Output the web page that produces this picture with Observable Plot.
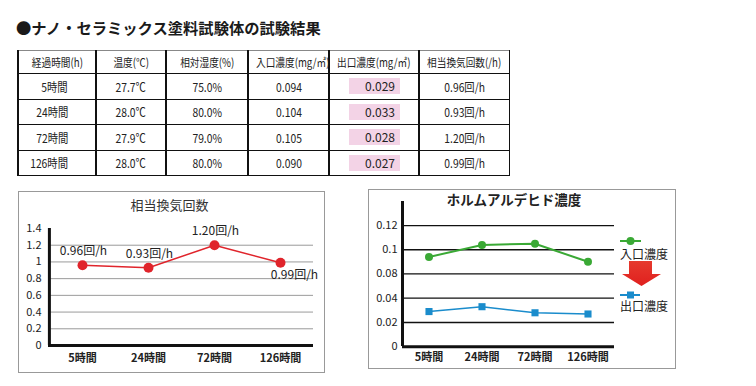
<!DOCTYPE html>
<html><head><meta charset="utf-8">
<script src="https://cdn.jsdelivr.net/npm/d3@7"></script>
<script src="https://cdn.jsdelivr.net/npm/@observablehq/plot@0.6"></script>
<style>
body{margin:0;background:#fff;font-family:"Noto Sans CJK JP","Noto Sans",sans-serif;color:#222;}
#page{position:relative;width:756px;height:386px;overflow:hidden;background:#fff;}
#title{position:absolute;left:16px;top:19px;font-size:15.3px;line-height:16px;font-weight:bold;color:#1a1a1a;white-space:nowrap;}
table{position:absolute;left:17px;top:50px;width:491px;border-collapse:collapse;table-layout:fixed;font-size:12px;color:#222;}
td,th{padding:0;font-weight:normal;text-align:center;border-top:1.5px solid #111;border-bottom:1.5px solid #111;border-left:2.5px solid #111;border-right:2.5px solid #111;white-space:nowrap;overflow:visible;}
tr.h th{height:22px;border-top:1.5px solid #888;font-size:11.5px;}
tr.h th .t{transform:scaleX(0.84);}
tr.d td{height:24.5px;}
.t{display:inline-block;transform:scaleX(0.86);transform-origin:center;}
.rwrap{display:flex;justify-content:flex-end;padding-right:27px;}
.rwrap .t{transform-origin:100% 50%;}
.lwrap{display:flex;justify-content:flex-start;padding-left:19px;}
.lwrap .t{width:40px;height:16px;line-height:16px;padding-left:11px;background:#f3d3e6;transform:none;}
th:last-child,td:last-child{border-right:1.5px solid #111;}
.box{position:absolute;border:1px solid #999;box-sizing:border-box;}
.ctitle{position:absolute;text-align:center;white-space:nowrap;}
.plot{position:absolute;}
#legend{position:absolute;left:612px;top:230px;}
</style></head>
<body><div id="page">
<div id="title">●ナノ・セラミックス塗料試験体の試験結果</div>
<div class="box" style="left:18px;top:191px;width:307px;height:182px;"></div>
<div class="box" style="left:368px;top:189px;width:308px;height:180px;"></div>
<div class="ctitle" style="left:18px;top:197px;width:303px;font-size:13px;line-height:16px;color:#333;">相当換気回数</div>
<div class="ctitle" style="left:368px;top:191px;width:292px;font-size:13.5px;line-height:16px;font-weight:bold;color:#222;">ホルムアルデヒド濃度</div>
<div id="plot1" class="plot" style="left:18px;top:191px;"></div>
<div id="plot2" class="plot" style="left:368px;top:189px;"></div>
<svg id="legend" width="60" height="86" viewBox="612 230 60 86" style="font-family:'Noto Sans CJK JP',sans-serif;">
  <defs><linearGradient id="ag" x1="0" y1="0" x2="0" y2="1"><stop offset="0" stop-color="#e63a2e"/><stop offset="1" stop-color="#e0201e"/></linearGradient></defs>
  <line x1="620" y1="241" x2="641" y2="241" stroke="#3aa935" stroke-width="2"/>
  <circle cx="630.5" cy="241" r="4" fill="#3aa935"/>
  <text x="620" y="258.5" font-size="12" fill="#222">入口濃度</text>
  <polygon points="629,261 652,261 652,274 661,274 641.5,286 622,274 629,274" fill="url(#ag)"/>
  <line x1="620" y1="295" x2="640" y2="295" stroke="#1a8ccc" stroke-width="2"/>
  <rect x="627" y="291.5" width="7" height="7" fill="#1a8ccc"/>
  <text x="620" y="310.5" font-size="12" fill="#222">出口濃度</text>
</svg>
</div>
<script>
// ---- data ----
const hours = ["5時間", "24時間", "72時間", "126時間"];
const tableHeaders = ["経過時間(h)", "温度(℃)", "相対湿度(%)", "入口濃度(mg/㎥)", "出口濃度(mg/㎥)", "相当換気回数(/h)"];
const temperature = [27.7, 28.0, 27.9, 28.0];
const humidity = [75.0, 80.0, 79.0, 80.0];
const inletConc = [0.094, 0.104, 0.105, 0.090];
const outletConc = [0.029, 0.033, 0.028, 0.027];
const airChanges = [0.96, 0.93, 1.20, 0.99];
const airTicks = [0, 0.2, 0.4, 0.6, 0.8, 1.0, 1.2, 1.4];
const concTicks = [0, 0.02, 0.04, 0.08, 0.1, 0.12];
const concDomain = [0, 0.04, 0.08, 0.14]; // broken axis: 0.06 step omitted

const font = '"Noto Sans CJK JP","Noto Sans",sans-serif';
const colWidths = [78, 70, 82, 81, 90, 90];

// ---- table ----
const table = d3.select("#page").append("table");
const cg = table.append("colgroup");
colWidths.forEach(w => cg.append("col").style("width", w + "px"));
table.append("tr").attr("class", "h").selectAll("th").data(tableHeaders).join("th")
  .append("span").attr("class", "t").text(d => d);
hours.forEach((h, i) => {
  const tr = table.append("tr").attr("class", "d");
  tr.append("td").append("div").attr("class", "rwrap").append("span").attr("class", "t").text(h);
  tr.append("td").append("span").attr("class", "t").text(d3.format(".1f")(temperature[i]) + "℃");
  tr.append("td").append("span").attr("class", "t").text(d3.format(".1f")(humidity[i]) + "%");
  tr.append("td").append("span").attr("class", "t").text(d3.format(".3f")(inletConc[i]));
  tr.append("td").append("div").attr("class", "lwrap").append("span").attr("class", "t").text(d3.format(".3f")(outletConc[i]));
  tr.append("td").append("span").attr("class", "t").text(d3.format(".2f")(airChanges[i]) + "回/h");
});

// ---- chart 1 ----
const airData = hours.map((h, i) => ({hour: h, value: airChanges[i], label: d3.format(".2f")(airChanges[i]) + "回/h", i}));
const red = "#e0242b";
const p1 = Plot.plot({
  width: 307, height: 182,
  marginLeft: 30, marginRight: 12, marginTop: 37, marginBottom: 28,
  x: {type: "band", domain: hours, padding: 0, axis: null},
  y: {domain: [0, 1.4], axis: null},
  style: {fontFamily: font, fontSize: "11px", background: "transparent", color: "#222", overflow: "visible"},
  marks: [
    Plot.ruleY(airTicks.filter(d => d > 0 && d < 1.4), {stroke: "#9a9a9a", strokeWidth: 1}),
    Plot.axisY({ticks: airTicks, tickSize: 0, tickPadding: 7, tickFormat: d3.format("~g"), label: null, fontSize: 11}),
    Plot.axisX({tickSize: 0, tickPadding: 9, label: null, fontSize: 11, fontWeight: "bold"}),
    Plot.ruleY([0], {stroke: "#111", strokeWidth: 3}),
    Plot.ruleX([hours[0]], {dx: -33.1, stroke: "#111", strokeWidth: 3}),
    Plot.line(airData, {x: "hour", y: "value", stroke: red, strokeWidth: 1.5}),
    Plot.dot(airData, {x: "hour", y: "value", r: 5, fill: red}),
    Plot.text(airData.filter(d => d.i < 3), {x: "hour", y: "value", text: "label", dy: -14, dx: 1, fontSize: 12, fill: "#222"}),
    Plot.text(airData.filter(d => d.i === 3), {x: "hour", y: "value", text: "label", dy: 12, dx: 14, fontSize: 12, fill: "#222"})
  ]
});
document.getElementById("plot1").append(p1);

// ---- chart 2 ----
const inData = hours.map((h, i) => ({hour: h, value: inletConc[i]}));
const outData = hours.map((h, i) => ({hour: h, value: outletConc[i]}));
const green = "#3aa935", blue = "#1a8ccc";
const p2 = Plot.plot({
  width: 307, height: 180,
  marginLeft: 34, marginRight: 61, marginTop: 12, marginBottom: 23,
  x: {type: "band", domain: hours, padding: 0, axis: null},
  y: {type: "linear", domain: concDomain, range: [157.3, 108.7, 84.3, 12.1], axis: null},
  style: {fontFamily: font, fontSize: "11px", background: "transparent", color: "#222", overflow: "visible"},
  marks: [
    Plot.ruleY(concTicks.filter(d => d > 0), {stroke: "#111", strokeWidth: 1.3}),
    Plot.axisY({ticks: concTicks, tickSize: 0, tickPadding: 5, tickFormat: d3.format("~g"), label: null, fontSize: 11}),
    Plot.axisX({tickSize: 0, tickPadding: 7, label: null, fontSize: 11, fontWeight: "bold"}),
    Plot.ruleY([0], {stroke: "#111", strokeWidth: 3}),
    Plot.ruleX([hours[0]], {dx: -26.5, stroke: "#111", strokeWidth: 3}),
    Plot.line(inData, {x: "hour", y: "value", stroke: green, strokeWidth: 2}),
    Plot.dot(inData, {x: "hour", y: "value", r: 4, fill: green}),
    Plot.line(outData, {x: "hour", y: "value", stroke: blue, strokeWidth: 1.5}),
    Plot.dot(outData, {x: "hour", y: "value", symbol: "square", r: 4, fill: blue})
  ]
});
document.getElementById("plot2").append(p2);
</script>
</body></html>
